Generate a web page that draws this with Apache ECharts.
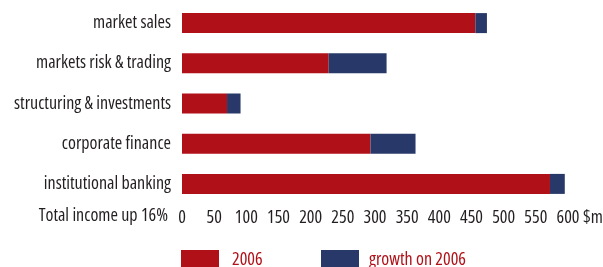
<!DOCTYPE html>
<html>
<head>
<meta charset="UTF-8">
<script src="https://cdn.jsdelivr.net/npm/echarts@6/dist/echarts.min.js"></script>
<style>
  body { margin: 0; background: #fff; }
  #chart { width: 603px; height: 267px; }
</style>
</head>
<body>
<div id="chart"></div>
<script>
// categories, top to bottom as drawn
var categories = ['market sales', 'markets risk & trading', 'structuring & investments', 'corporate finance', 'institutional banking'];
var income2006 = [456, 228, 70, 293, 572];
var growth = [18, 90, 21, 70, 23];
var tickLabels = ['0', '50', '100', '150', '200', '250', '300', '350', '400', '450', '500', '550', '600'];

var red = '#b01118';
var blue = '#283868';
var textColor = '#231f20';
var font = '"Open Sans"';
// narrow type: font-stretch goes in front of the size in the canvas font string
var stretch = 'semi-condensed';

var chart = echarts.init(document.getElementById('chart'));
chart.setOption({
    animation: false,
    grid: { left: 182, width: 386, top: 3, height: 201, outerBoundsMode: 'none', containLabel: false },
    xAxis: {
        type: 'value',
        min: 0, max: 600, interval: 50,
        axisLine: { show: false },
        axisTick: { show: false },
        splitLine: { show: false },
        axisLabel: {
            margin: 5,
            color: textColor,
            fontFamily: font,
            fontWeight: stretch,
            fontSize: 18,
            formatter: function (v) { return tickLabels[v / 50]; }
        },
        name: '$m',
        nameLocation: 'end',
        nameGap: 15,
        nameMoveOverlap: false,
        nameTextStyle: { color: textColor, fontFamily: font, fontWeight: stretch, fontSize: 18, verticalAlign: 'top', padding: [5, 0, 0, 0] }
    },
    yAxis: {
        type: 'category',
        inverse: true,
        data: categories,
        axisLine: { show: false },
        axisTick: { show: false },
        axisLabel: { margin: 11, color: textColor, fontFamily: font, fontWeight: stretch, fontSize: 18 }
    },
    legend: [
        { left: 176, top: 245, itemWidth: 38, itemHeight: 20, itemGap: 0, icon: 'rect',
          data: ['2006'], textStyle: { color: red, fontFamily: font, fontWeight: stretch, fontSize: 18, padding: [0, 0, 0, 8] } },
        { left: 316, top: 245, itemWidth: 38, itemHeight: 20, itemGap: 0, icon: 'rect',
          data: ['growth on 2006'], textStyle: { color: red, fontFamily: font, fontWeight: stretch, fontSize: 18, padding: [0, 0, 0, 5] } }
    ],
    graphic: [{
        type: 'text',
        style: {
            x: 168, y: 216, align: 'right', verticalAlign: 'middle',
            text: 'Total income up 16%', fill: textColor,
            fontFamily: font, fontWeight: stretch, fontSize: 18
        }
    }],
    series: [
        { name: '2006', type: 'bar', stack: 'total', barWidth: 20, data: income2006, itemStyle: { color: red } },
        { name: 'growth on 2006', type: 'bar', stack: 'total', barWidth: 20, data: growth, itemStyle: { color: blue } }
    ]
});
</script>
</body>
</html>
